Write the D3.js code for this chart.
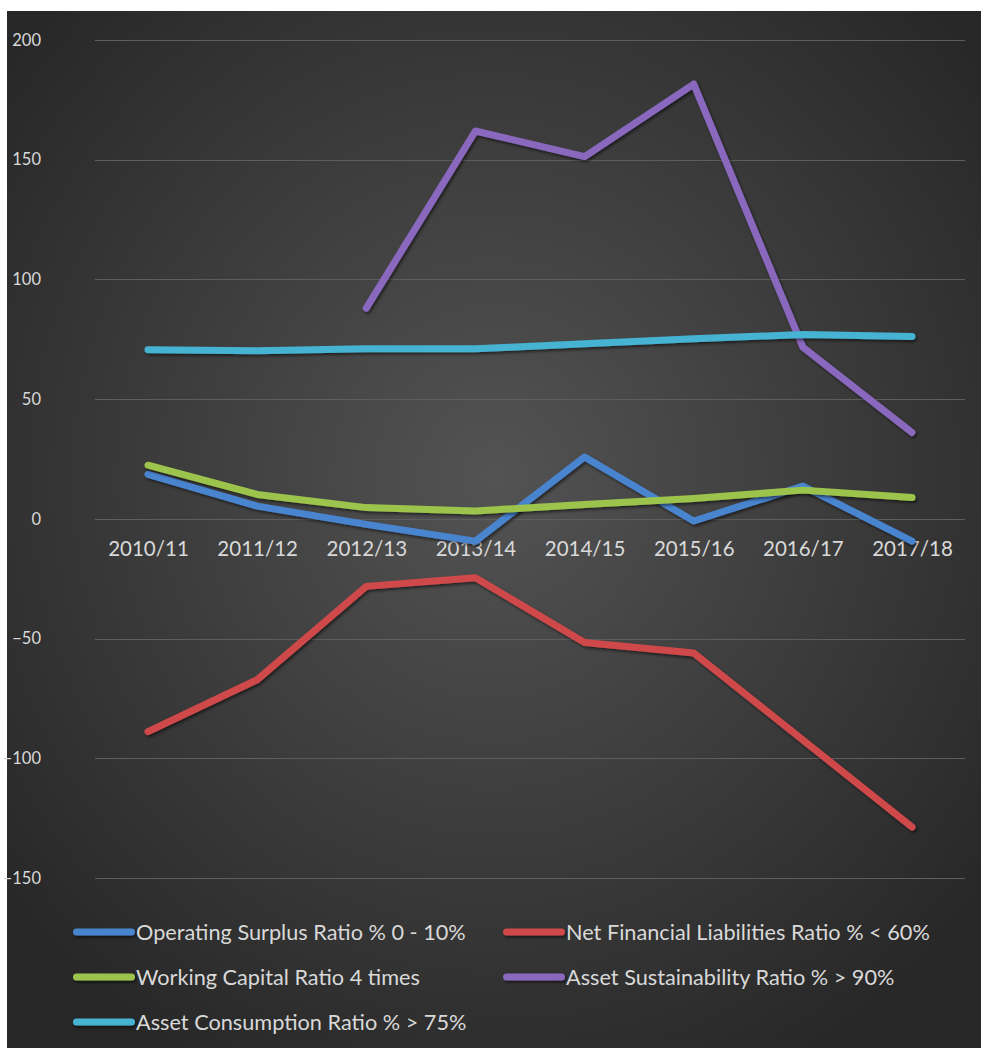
<!DOCTYPE html>
<html>
<head>
<meta charset="utf-8">
<script src="https://cdn.jsdelivr.net/npm/d3@7"></script>
<style>
  html, body { margin: 0; padding: 0; background: #fff; }
  svg { display: block; }
</style>
</head>
<body>
<div id="chart"></div>
<script>
// categories and series
const years = ["2010/11", "2011/12", "2012/13", "2013/14", "2014/15", "2015/16", "2016/17", "2017/18"];

const operatingSurplus = [18.6, 5.3, -2.3, -9.3, 25.8, -0.9, 13.7, -9.3];
const netFinancialLiabilities = [-88.9, -67.2, -28.2, -24.6, -51.6, -56, -92.4, -128.7];
const workingCapital = [22.4, 10.2, 4.7, 3.3, 6, 8.5, 12, 8.9];
const assetSustainability = [null, null, 88, 162, 151.3, 181.6, 71.7, 36.1];
const assetConsumption = [70.6, 70.2, 71, 71, 73.1, 75.2, 77, 76.2];

const yTicks = [-150, -100, -50, 0, 50, 100, 150, 200];

const series = [
  {name: "Operating Surplus Ratio % 0 - 10%", values: operatingSurplus, color: "#4a84cf"},
  {name: "Net Financial Liabilities Ratio % < 60%", values: netFinancialLiabilities, color: "#cf4a4b"},
  {name: "Working Capital Ratio 4 times", values: workingCapital, color: "#9cc44d"},
  {name: "Asset Sustainability Ratio % > 90%", values: assetSustainability, color: "#8968bd"},
  {name: "Asset Consumption Ratio % > 75%", values: assetConsumption, color: "#46b3d3"}
];

const W = 981, H = 1048;
const font = "Lato, 'Open Sans', sans-serif";

const svg = d3.select("#chart").append("svg")
  .attr("width", W)
  .attr("height", H);

const defs = svg.append("defs");
const grad = defs.append("radialGradient")
  .attr("id", "bg")
  .attr("cx", "50%").attr("cy", "45%").attr("r", "65%");
grad.append("stop").attr("offset", "0%").attr("stop-color", "#535353");
grad.append("stop").attr("offset", "100%").attr("stop-color", "#272727");

// big user-space region so translated legend swatches aren't clipped
const shadow = defs.append("filter")
  .attr("id", "shadow")
  .attr("filterUnits", "userSpaceOnUse")
  .attr("x", -W).attr("y", -H).attr("width", 3 * W).attr("height", 3 * H);
shadow.append("feDropShadow")
  .attr("dx", 1.5).attr("dy", 2)
  .attr("stdDeviation", 1.5)
  .attr("flood-color", "#000")
  .attr("flood-opacity", 0.55);

// chart background, with the white strip at the top/left like the screenshot
svg.append("rect")
  .attr("x", 7).attr("y", 11)
  .attr("width", W - 7).attr("height", H - 11)
  .attr("fill", "url(#bg)");

const x = d3.scalePoint()
  .domain(years)
  .range([148, 912]);

const y = d3.scaleLinear()
  .domain([-150, 200])
  .range([878, 40]);

const plotLeft = 95, plotRight = 965;

// gridlines
svg.append("g")
  .selectAll("line")
  .data(yTicks)
  .join("line")
  .attr("x1", plotLeft)
  .attr("x2", plotRight)
  .attr("y1", d => Math.round(y(d)) + 0.5)
  .attr("y2", d => Math.round(y(d)) + 0.5)
  .attr("stroke", "#5e5e5e")
  .attr("stroke-width", 1.2);

// y axis labels
const yAxis = svg.append("g")
  .attr("transform", "translate(41,0)")
  .call(d3.axisLeft(y).tickValues(yTicks).tickSize(0).tickPadding(0));
yAxis.select(".domain").remove();
yAxis.selectAll("text")
  .attr("fill", "#d9d9d9")
  .attr("font-family", font)
  .attr("font-size", 16.5);

// x axis labels, sitting under the zero line
const xAxis = svg.append("g")
  .attr("transform", "translate(0," + y(0) + ")")
  .call(d3.axisBottom(x).tickSize(0).tickPadding(23));
xAxis.select(".domain").remove();
xAxis.selectAll("text")
  .attr("fill", "#d9d9d9")
  .attr("font-family", font)
  .attr("font-size", 20.5);

const line = d3.line()
  .defined(d => d != null)
  .x((d, i) => x(years[i]))
  .y(d => y(d));

svg.append("g")
  .selectAll("path")
  .data(series)
  .join("path")
  .attr("d", d => line(d.values))
  .attr("fill", "none")
  .attr("stroke", d => d.color)
  .attr("stroke-width", 7)
  .attr("stroke-linecap", "round")
  .attr("stroke-linejoin", "round")
  .attr("filter", "url(#shadow)");

// legend
const legendPos = [
  {x: 73, y: 932}, {x: 503, y: 932},
  {x: 73, y: 977}, {x: 503, y: 977},
  {x: 73, y: 1022}
];

const legend = svg.append("g")
  .selectAll("g")
  .data(series)
  .join("g")
  .attr("transform", (d, i) => "translate(" + legendPos[i].x + "," + legendPos[i].y + ")");

legend.append("rect")
  .attr("x", 0).attr("y", -3.5)
  .attr("width", 62).attr("height", 7)
  .attr("rx", 3.5)
  .attr("fill", d => d.color)
  .attr("filter", "url(#shadow)");

legend.append("text")
  .attr("x", 63)
  .attr("y", 0)
  .attr("dy", "0.35em")
  .attr("fill", "#d9d9d9")
  .attr("font-family", font)
  .attr("font-size", 21.7)
  .text(d => d.name);
</script>
</body>
</html>
